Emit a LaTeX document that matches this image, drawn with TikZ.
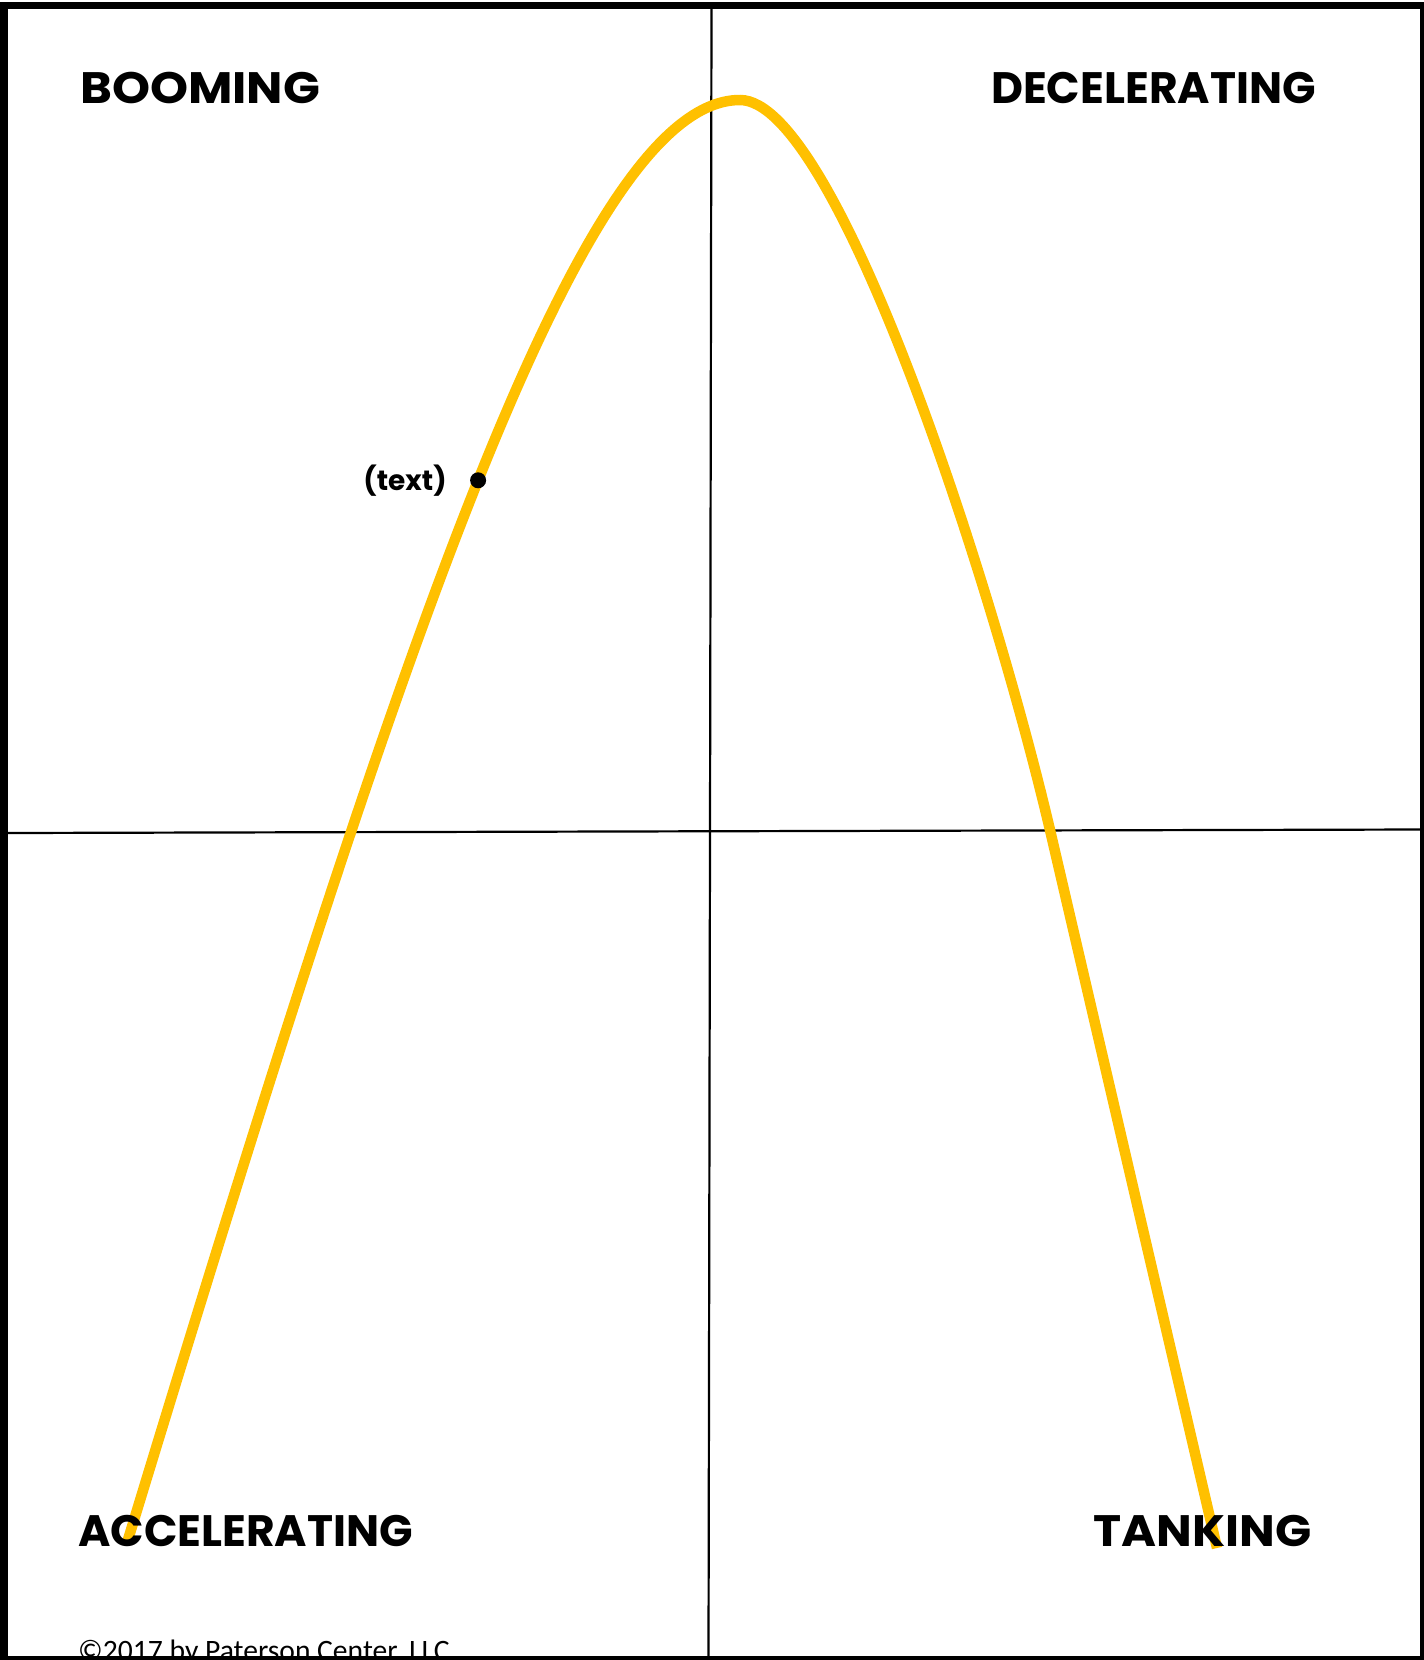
\documentclass[tikz,border=0pt]{standalone}
\usepackage{fontspec}
\usepackage{xcolor}
\usepackage{tikz}
\usetikzlibrary{positioning}
\newfontfamily\headfont{Poppins}
\newfontfamily\notefont{Carlito}
\definecolor{gold}{HTML}{FFC000}

\begin{document}
\begin{tikzpicture}[x=1pt, y=-1pt,
    axis/.style={line width=2.2pt, black},
    curve/.style={line width=10.5pt, gold},
    phase/.style={font=\headfont\bfseries\fontsize{44}{48}\selectfont, inner sep=0pt},
    lbl/.style={font=\headfont\bfseries\fontsize{28}{30}\selectfont, inner sep=0pt},
    dot/.style={circle, fill=black, inner sep=0pt, minimum size=16pt}]
  \useasboundingbox (0,0) rectangle (1424,1660);

  % Copyright (cut off by the frame)
  \node[font=\notefont\fontsize{29.6}{32}\selectfont, inner sep=0pt, anchor=base west] (copy) at (78,1660) {©2017 by Paterson Center, LLC};

  % Kvadranty
  \draw[axis] (711.5,9) -- (708.5,1656);
  \draw[axis] (8,833) -- (1420,829.5);

  % Krivka
  \coordinate (start) at (127,1543);
  \coordinate (top) at (740,100);
  \coordinate (knee) at (1050,830);
  \coordinate (end) at (1217,1548);
  \draw[curve] (start) .. controls (398,653) and (580,100) .. (top)
    node[dot, pos=0.505] (pt) {}
    .. controls (836,100) and (991,579) .. (knee) -- (end);

  % Popisky faze
  \node[phase, anchor=base west] (boom) at (80,103) {\scalebox{1.1}[1]{BOOMING}};
  \node[phase, anchor=base east] (decel) at (1316,103) {DECELERATING};
  \node[phase, anchor=base west] (accel) at (78,1546) {ACCELERATING};
  \node[phase, anchor=base east] (tank) at (1312,1546) {\scalebox{1.08}[1]{TANKING}};

  % Bod na krivce
  \node[lbl, left=18pt of pt] (ptlabel) {(text)};

  % Ramecek
  \draw[line width=7.5pt] (4,5.5) rectangle (1423.5,1659.5);
\end{tikzpicture}
\end{document}
